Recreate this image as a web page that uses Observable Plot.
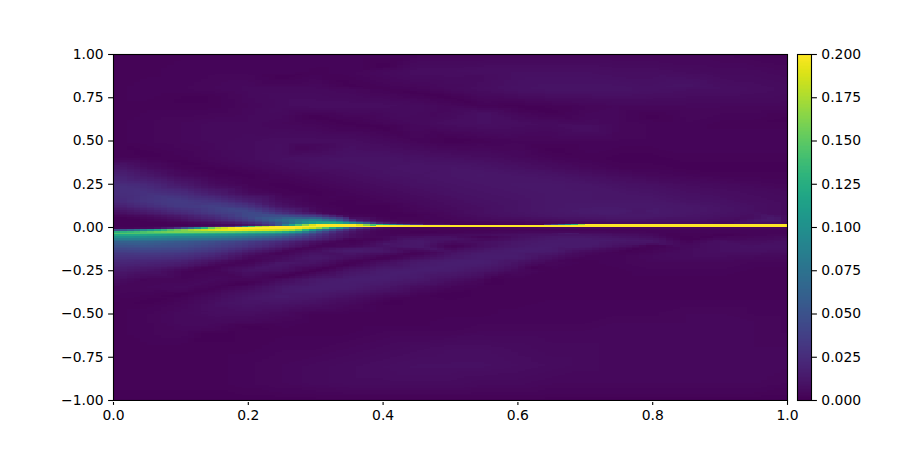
<!DOCTYPE html>
<html><head><meta charset="utf-8">
<script src="https://cdn.jsdelivr.net/npm/d3@7"></script>
<script src="https://cdn.jsdelivr.net/npm/@observablehq/plot@0.6"></script>
<style>html,body{margin:0;background:#fff}#c{position:relative;width:900px;height:450px}#c svg{position:absolute;left:0;top:0;background:transparent}</style>
</head><body><div id="c"></div>
<script>
const xTickValues=[0,.2,.4,.6,.8,1];
const yTickValues=[-1,-.75,-.5,-.25,0,.25,.5,.75,1];
const barTickValues=[0,.025,.05,.075,.1,.125,.15,.175,.2];
const farX=[0,.05,.1,.15,.2,.25,.3,.35,.4,.45,.5,.55,.6,.65,.7,.75,.8,.85,.9,.95,1];
const farY=[1,.9,.8,.7,.6,.5,.4,.35,.3,.25,.2,.15,.12,.09,.065,-.11,-.14,-.17,-.2,-.25,-.3,-.35,-.4,-.45,-.5,-.55,-.6,-.7,-.8,-.9,-1];
const farV=[
[2,2,2,2,2,2,3,3,3,3,3,3,3,3,3,3,3,3,3,2,2],
[2,2,3,3,3,3,2,3,5,7,7,8,8,8,8,7,7,6,5,5,4],
[2,3,3,4,5,5,5,4,2,3,5,7,9,10,10,10,9,8,8,7,6],
[2,2,2,2,4,6,7,7,7,6,4,2,1,2,3,4,4,4,4,4,4],
[2,3,4,5,5,4,3,1,3,5,7,8,7,6,5,4,3,3,2,2,2],
[2,3,4,5,6,7,7,7,5,3,1,2,3,3,3,3,3,3,3,3,3],
[3,2,2,4,6,8,9,10,10,9,8,7,5,3,2,1,1,2,2,2,2],
[12,6,2,2,4,6,8,9,10,11,11,10,8,6,4,2,2,1,1,1,1],
[20,12,5,2,1,3,5,7,9,10,11,12,11,10,8,6,4,3,2,2,2],
[25,22,13,5,2,1,3,5,7,9,10,11,12,12,11,9,8,6,5,4,3],
[25,28,24,14,5,2,1,3,5,7,9,10,11,12,12,11,10,8,7,6,5],
[22,30,35,30,18,6,2,1,3,5,7,9,10,12,12,12,12,10,9,7,6],
[15,24,33,38,30,10,3,1,1,4,6,8,10,12,13,13,13,12,10,8,6],
[7,14,24,36,44,22,4,1,1,3,5,8,10,12,14,15,14,12,10,8,6],
[2,6,14,26,44,48,35,3,1,2,4,7,9,11,12,13,13,11,9,7,6],
[48,50,47,38,28,15,2,4,10,13,2,8,13,15,14,8,2,5,8,9,9],
[36,38,36,28,14,3,8,14,12,3,8,13,16,14,6,2,3,6,8,8,7],
[28,28,26,18,5,6,13,8,2,6,12,16,15,8,3,3,5,6,6,5,4],
[22,20,17,8,2,8,10,2,7,13,16,16,10,4,2,3,4,4,4,3,3],
[14,10,4,3,8,8,2,10,15,16,15,11,5,2,2,2,3,3,3,2,2],
[8,3,3,5,4,6,13,16,16,13,8,4,2,2,2,2,2,2,2,2,2],
[4,4,5,2,6,13,16,15,11,6,3,2,2,2,2,2,2,2,2,2,2],
[3,2,2,6,11,14,12,8,4,2,1,2,2,2,2,2,2,2,2,2,2],
[2,2,4,8,10,9,7,4,2,2,2,2,2,3,3,3,3,3,3,3,3],
[2,3,5,7,7,5,2,2,2,2,2,2,3,3,3,3,3,4,4,3,3],
[2,3,5,5,4,3,2,2,2,2,3,3,3,3,3,4,4,4,4,4,3],
[2,3,4,3,2,2,2,2,3,3,3,4,4,4,4,4,4,4,4,4,3],
[2,2,2,2,2,3,3,4,5,6,7,7,6,5,5,4,4,4,4,4,4],
[2,2,2,2,3,4,5,6,7,8,8,8,7,6,5,4,4,4,4,4,4],
[2,2,2,2,3,4,5,6,6,6,6,5,5,4,4,4,4,4,4,4,3],
[1,1,1,1,1,1,1,1,1,1,1,1,1,1,1,1,1,1,1,1,1]];
const nearX=[0,.03,.06,.09,.12,.15,.18,.21,.24,.27,.3,.33,.36,.39,.42,.46,.5,.55,.6,.65,.68,.695,.72,.8,.9,1];
const nearY=[.045,.035,.025,.015,.005,-.005,-.015,-.025,-.035,-.045,-.055,-.065,-.075,-.085];
const nearV=[
[1,1,3,6,12,18,28,42,62,80,90,60,12,4,2,2,3,5,6,7,8,8,9,9,7,5],
[1,1,2,4,8,12,20,34,56,84,112,100,35,8,3,2,2,3,4,5,6,6,7,8,6,5],
[1,1,1,2,4,8,14,26,48,80,115,125,85,25,6,3,2,2,3,4,5,5,6,7,5,4],
[1,1,1,1,2,3,5,14,40,130,200,200,200,130,5,3,2,2,3,4,5,5,6,6,5,4],
[1,1,2,3,5,10,30,160,200,200,200,200,200,200,4,3,2,2,3,4,4,4,5,5,4,4],
[2,3,5,20,80,170,200,200,200,200,180,110,35,8,3,2,3,3,4,5,5,5,5,4,4,4],
[45,70,110,150,175,190,195,190,185,170,90,40,12,4,2,2,2,2,3,3,3,3,3,3,3,3],
[125,135,150,160,160,155,150,140,135,110,55,22,8,3,2,1,2,3,4,4,4,4,4,3,3,3],
[145,145,140,135,130,125,120,110,100,75,40,18,7,3,2,2,3,4,6,7,7,7,7,4,2,3],
[120,120,115,110,105,100,95,85,75,55,32,15,6,3,3,4,5,6,8,9,10,10,9,5,1,4],
[100,100,95,90,88,85,78,68,58,42,26,13,6,3,6,8,8,2,8,12,12,12,11,7,3,5],
[85,85,82,78,74,70,64,54,45,32,20,10,4,2,7,10,10,5,9,13,14,14,13,9,5,7],
[72,72,70,67,62,56,50,42,34,24,14,6,2,3,9,11,8,5,10,14,14,14,14,11,7,8],
[60,62,60,56,52,46,40,32,25,16,8,3,2,6,10,12,6,8,12,14,14,14,14,11,8,8]];
// points read along the thin dark and light streaks
const streakX=[.11,.15,.2,.25,.3,.35, .055,.1,.15,.2,.25,.3,.35,.4,.45,.5,.55, .144,.2,.3,.4,.5,.56,.62,.69,.76,.8,.85,
 .2,.25,.3,.35,.4,.45,.5,.6,.68, .2,.25,.3,.35,.4,.45,.5,.55,.6,.66,
 .25,.35,.45,.5,.6,.65,.8,1, .13,.2,.3,.4,.5,.65,.8,.9,1, .045,.1,.15,.2,.25,.3,.35,.4,.45,
 .4,.55,.7,.85,1, .25,.4,.55,.7,.9, .28,.38,.48,.56,.67,.78,.98];
const streakY=[-.26,-.225,-.19,-.15,-.11,-.07, -.43,-.39,-.35,-.32,-.285,-.25,-.21,-.18,-.15,-.11,-.06, -.61,-.57,-.5,-.44,-.38,-.3,-.235,-.185,-.135,-.105,-.07,
 -.25,-.205,-.17,-.13,-.1,-.075,-.045,-.03,-.035, -.42,-.38,-.34,-.31,-.28,-.25,-.22,-.18,-.15,-.12,
 .87,.82,.78,.75,.7,.67,.64,.63, .75,.7,.64,.58,.51,.45,.39,.365,.34, .43,.38,.34,.3,.25,.2,.15,.1,.07,
 .93,.88,.85,.82,.8, .75,.69,.66,.58,.5, .46,.39,.33,.29,.2,.1,.05];
const streakV=[2,2,2,2,1,1, 1,1,1,1,1,1,1,1,1,1,1, 1,1,1,1,1,1,1,1,1,1,1,
 10,12,13,14,13,13,14,14,14, 11,13,15,16,16,16,16,15,14,13,
 1,1,1,1,1,1,1,1, 1,1,1,1,1,1,1,1,1, 1,1,1,1,1,1,1,1,1,1,
 6,9,10,9,6, 6,8,8,5,3, 10,10,11,12,12,14,8];
// the two thin rows just above zero: x from, x to, lower edge, value
const ridgeX1=[.39,.4,.41,.42,.43,.44,.46,.64,.65,.66,.67,.68,.69,.7,.39];
const ridgeX2=[.4,.41,.42,.43,.44,.46,.5,.65,.66,.67,.68,.69,.7,1,1];
const ridgeY1=[.01,.01,.01,.01,.01,.01,.01,.01,.01,.01,.01,.01,.01,.01,0];
const ridgeV=[130,110,90,70,50,30,12,25,40,70,100,130,170,200,200];

const points=[];
farY.forEach((y,r)=>farX.forEach((x,c)=>points.push({x,y,v:farV[r][c]/1000})));
nearY.forEach((y,r)=>nearX.forEach((x,c)=>points.push({x,y,v:nearV[r][c]/1000})));
streakX.forEach((x,i)=>points.push({x,y:streakY[i],v:streakV[i]/1000}));
const ridge=ridgeX1.map((x1,i)=>({x1,x2:ridgeX2[i],y1:ridgeY1[i],y2:ridgeY1[i]+.01,v:ridgeV[i]/1000}));

const font={fontFamily:"'DejaVu Sans'",fontSize:"13.9px",background:"transparent",overflow:"visible"};
const color={type:"linear",scheme:"viridis",domain:[0,.2],clamp:true};
const main=Plot.plot({
  width:900,height:450,marginLeft:113,marginRight:113,marginTop:54,marginBottom:50,style:font,
  x:{domain:[0,1]},y:{domain:[-1,1]},color,
  marks:[
    Plot.raster(points,{x:"x",y:"y",fill:"v",x1:0,x2:1,y1:-1,y2:1,interpolate:"barycentric",width:100,height:200,imageRendering:"pixelated"}),
    Plot.rect(ridge,{x1:"x1",x2:"x2",y1:"y1",y2:"y2",fill:"v",shapeRendering:"crispEdges"}),
    Plot.frame({stroke:"black",strokeWidth:1.1}),
    Plot.axisX({ticks:xTickValues,tickSize:4.9,tickPadding:4.9,strokeWidth:1.1,label:null,tickFormat:d3.format(".1f"),fontSize:13.9}),
    Plot.axisY({ticks:yTickValues,tickSize:4.9,tickPadding:4.9,strokeWidth:1.1,label:null,tickFormat:d3.format(".2f"),fontSize:13.9}),
    Plot.ruleY([-1],{stroke:"white",strokeWidth:1.2,dy:1})
  ]});
const levels=d3.range(256).map(i=>i/256*.2);
const bar=Plot.plot({
  width:900,height:450,marginLeft:797,marginRight:89,marginTop:54,marginBottom:50,style:font,
  x:{domain:[0,1],axis:null},y:{domain:[0,.2]},color,
  marks:[
    Plot.rect(levels,{x1:()=>0,x2:()=>1,y1:d=>d,y2:d=>d+.2/256,fill:d=>d,shapeRendering:"crispEdges"}),
    Plot.frame({stroke:"black",strokeWidth:1.1}),
    Plot.axisY({anchor:"right",ticks:barTickValues,tickSize:4.9,tickPadding:4.9,strokeWidth:1.1,label:null,tickFormat:d3.format(".3f"),fontSize:13.9})
  ]});
document.getElementById("c").append(main,bar);
</script></body></html>
